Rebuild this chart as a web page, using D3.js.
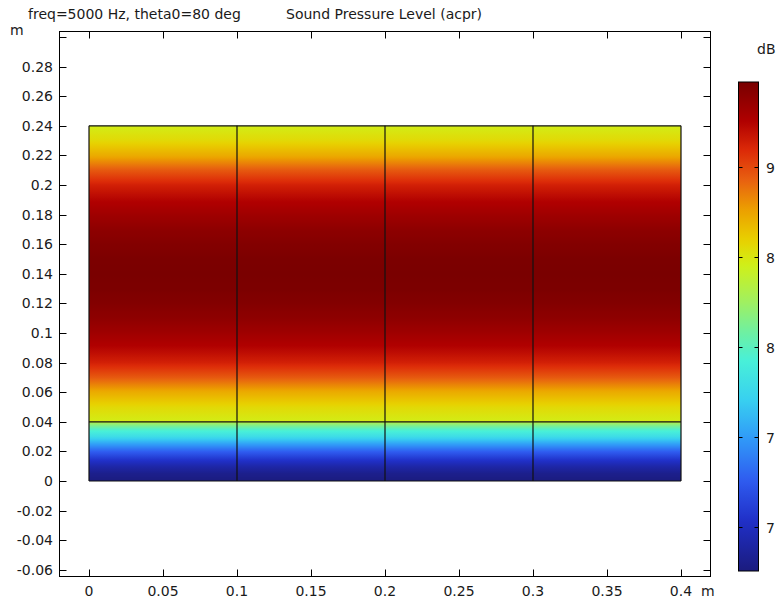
<!DOCTYPE html>
<html><head><meta charset="utf-8">
<script src="https://cdn.jsdelivr.net/npm/d3@7"></script>
<style>body{margin:0;background:#fff}svg{display:block}text{font-family:"DejaVu Sans",sans-serif;fill:#1a1a1a}</style>
</head><body>
<svg id="c" width="778" height="600"></svg>
<script>
// ---- data ----
const titleLeft = "freq=5000 Hz, theta0=80 deg";
const titleRight = "Sound Pressure Level (acpr)";
const xBounds = [0, 0.1, 0.2, 0.3, 0.4];          // column boundaries (m)
const yBounds = [0, 0.04, 0.24];                   // layer boundaries (m)
const xTicks = [0, 0.05, 0.1, 0.15, 0.2, 0.25, 0.3, 0.35, 0.4];
const xTickLabels = ["0","0.05","0.1","0.15","0.2","0.25","0.3","0.35","0.4"];
const yTicks = [-0.06,-0.04,-0.02,0,0.02,0.04,0.06,0.08,0.1,0.12,0.14,0.16,0.18,0.2,0.22,0.24,0.26,0.28,0.3];
const yTickLabels = ["-0.06","-0.04","-0.02","0","0.02","0.04","0.06","0.08","0.1","0.12","0.14","0.16","0.18","0.2","0.22","0.24","0.26","0.28",""];
// SPL profile (dB) vs height, upper layer
const upperH = [0.04,0.05,0.06,0.07,0.08,0.09,0.10,0.11,0.12,0.13,0.14,0.15,0.16,0.17,0.18,0.19,0.20,0.21,0.22,0.23,0.24];
const upperV = [8.667,8.760,8.920,9.150,9.330,9.440,9.520,9.585,9.630,9.655,9.665,9.655,9.630,9.585,9.520,9.440,9.330,9.150,8.920,8.760,8.667];
// lower layer
const lowerH = [0,0.005,0.01,0.015,0.02,0.025,0.03,0.035,0.039,0.04];
const lowerV = [6.96,7.010,7.119,7.282,7.472,7.716,7.988,8.178,8.450,8.600];
// colour bar
const cbMin = 6.956, cbMax = 9.672;
const cbTicks = [9.2, 8.7, 8.2, 7.7, 7.2];
const cbTickLabels = ["9","8","8","7","7"];
const cbUnit = "dB";
const cmapStops = [0,0.104,0.186,0.268,0.35,0.43,0.49,0.55,0.626,0.677,0.738,0.80,0.86,0.92,1];
const cmapColors = ["#1b1b7e","#2030c8","#2f5cf0","#3098f8","#38d0f0","#48f0d8","#70f0a0","#a0f060","#d0f018","#e8d000","#eca000","#e86010","#dc2a08","#b00000","#780000"];

// ---- scales ----
const svg = d3.select("#c");
const frame = {l:59, t:31, r:710, b:576};
const x = d3.scaleLinear().domain([0,0.4]).range([89,681]);
const y = d3.scaleLinear().domain([0,0.24]).range([481,125.8]);
const cmap = d3.scaleLinear().domain(cmapStops).range(cmapColors).interpolate(d3.interpolateRgb).clamp(true);
const norm = d3.scaleLinear().domain([cbMin,cbMax]).range([0,1]).clamp(true);
const colorOf = v => cmap(norm(v));

const defs = svg.append("defs");
function layerGradient(id, hs, vs, h0, h1){
  const prof = d3.scaleLinear().domain(hs).range(vs);
  const g = defs.append("linearGradient").attr("id",id).attr("x1",0).attr("x2",0).attr("y1",1).attr("y2",0);
  const n = 120;
  d3.range(n+1).forEach(i=>{
    const h = h0 + (h1-h0)*i/n;
    g.append("stop").attr("offset",i/n).attr("stop-color",colorOf(prof(h)));
  });
}
layerGradient("gLow", lowerH, lowerV, 0, 0.04);
layerGradient("gUp", upperH, upperV, 0.04, 0.24);

// field
svg.append("rect").attr("x",x(0)).attr("width",x(0.4)-x(0))
  .attr("y",y(0.04)).attr("height",y(0)-y(0.04)).attr("fill","url(#gLow)");
svg.append("rect").attr("x",x(0)).attr("width",x(0.4)-x(0))
  .attr("y",y(0.24)).attr("height",y(0.04)-y(0.24)).attr("fill","url(#gUp)");

// domain edges
const edges = svg.append("g").attr("stroke","#111").attr("stroke-width",1.2).attr("fill","none");
xBounds.forEach(v=>edges.append("line").attr("x1",x(v)).attr("x2",x(v)).attr("y1",y(0)).attr("y2",y(0.24)));
yBounds.forEach(v=>edges.append("line").attr("x1",x(0)).attr("x2",x(0.4)).attr("y1",y(v)).attr("y2",y(v)));

// frame & ticks
const ax = svg.append("g").attr("stroke","#000").attr("stroke-width",1);
ax.append("rect").attr("x",frame.l+0.5).attr("y",frame.t+0.5).attr("width",frame.r-frame.l).attr("height",frame.b-frame.t).attr("fill","none");
const tl = 7;
xTicks.forEach(v=>{
  const px = Math.round(x(v))+0.5;
  ax.append("line").attr("x1",px).attr("x2",px).attr("y1",frame.b+0.5).attr("y2",frame.b+0.5-tl);
  ax.append("line").attr("x1",px).attr("x2",px).attr("y1",frame.t+0.5).attr("y2",frame.t+0.5+tl);
});
yTicks.forEach(v=>{
  const py = Math.round(y(v))+0.5;
  ax.append("line").attr("x1",frame.l+0.5).attr("x2",frame.l+0.5+tl).attr("y1",py).attr("y2",py);
  ax.append("line").attr("x1",frame.r+0.5).attr("x2",frame.r+0.5-tl).attr("y1",py).attr("y2",py);
});
const fs = 14;
xTicks.forEach((v,i)=>svg.append("text").attr("x",x(v)).attr("y",596).attr("text-anchor","middle").attr("font-size",fs).text(xTickLabels[i]));
yTicks.forEach((v,i)=>svg.append("text").attr("x",53).attr("y",y(v)+5).attr("text-anchor","end").attr("font-size",fs).text(yTickLabels[i]));
svg.append("text").attr("x",701).attr("y",596).attr("font-size",fs).text("m");
svg.append("text").attr("x",10).attr("y",35).attr("font-size",fs).text("m");

// titles
svg.append("text").attr("x",28).attr("y",19).attr("font-size",fs).text(titleLeft);
svg.append("text").attr("x",286).attr("y",19).attr("font-size",fs).text(titleRight);

// colour bar
const cb = {x:738.5, w:20, t:82, b:571};
const cy = d3.scaleLinear().domain([cbMin,cbMax]).range([cb.b,cb.t]);
const cg = defs.append("linearGradient").attr("id","gCb").attr("x1",0).attr("x2",0).attr("y1",1).attr("y2",0);
d3.range(101).forEach(i=>cg.append("stop").attr("offset",i/100).attr("stop-color",cmap(i/100)));
svg.append("rect").attr("x",cb.x).attr("y",cb.t).attr("width",cb.w).attr("height",cb.b-cb.t).attr("fill","url(#gCb)").attr("stroke","#000").attr("stroke-width",1);
cbTicks.forEach((v,i)=>{
  const py = Math.round(cy(v))+0.5;
  svg.append("line").attr("x1",cb.x).attr("x2",cb.x+4).attr("y1",py).attr("y2",py).attr("stroke","#000");
  svg.append("line").attr("x1",cb.x+cb.w).attr("x2",cb.x+cb.w-4).attr("y1",py).attr("y2",py).attr("stroke","#000");
  svg.append("text").attr("x",766).attr("y",py+5).attr("font-size",fs).text(cbTickLabels[i]);
});
svg.append("text").attr("x",757).attr("y",54).attr("font-size",fs).text(cbUnit);
</script>
</body></html>
